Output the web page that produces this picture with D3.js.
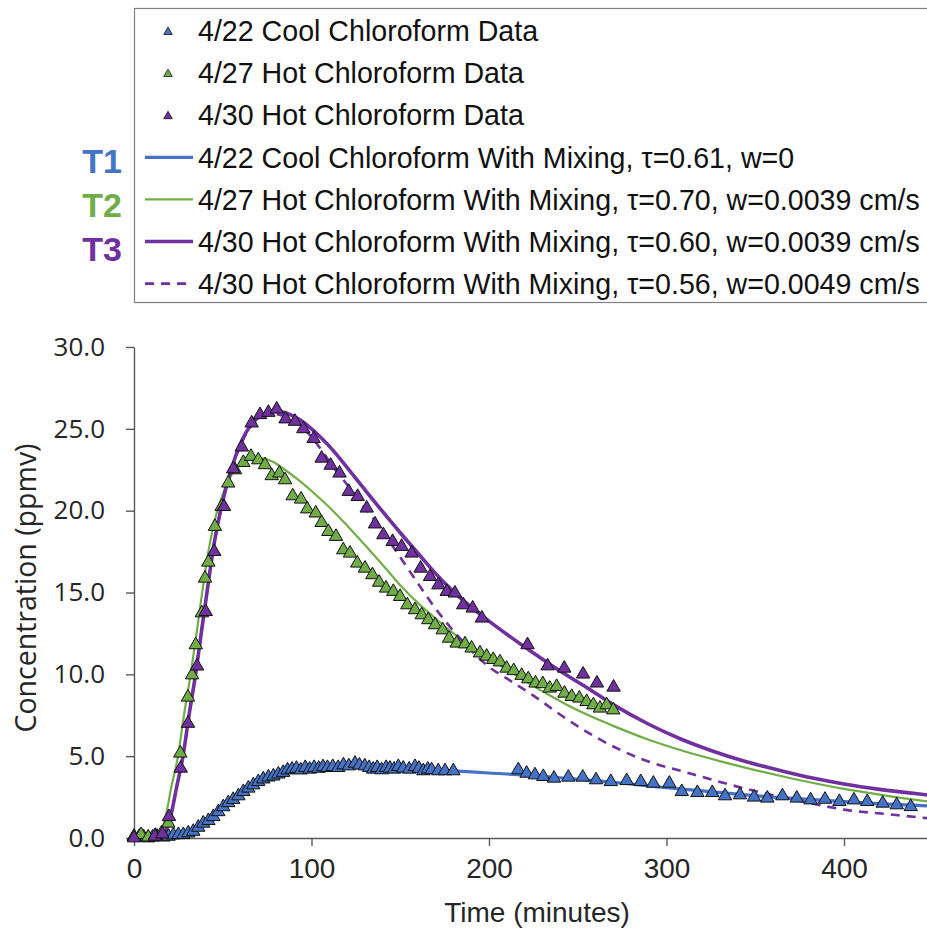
<!DOCTYPE html>
<html>
<head>
<meta charset="utf-8">
<script src="https://cdn.jsdelivr.net/npm/d3@7"></script>
<style>
  html, body { margin: 0; padding: 0; background: #fff; overflow: hidden; }
  svg { display: block; }
</style>
</head>
<body>
<svg id="chart" width="927" height="930"></svg>
<script>
// ---- Measured chloroform concentrations (time in minutes, concentration in ppmv) ----
const coolT = [0, 3, 5.5, 8, 10.5, 13, 16.5, 19.5, 22.2, 25, 27.8, 30.6, 33.4, 36.2, 39, 41.9, 44.7, 47.5, 50.3, 53.1, 55.9, 58.8, 61.6, 64.4, 67.2, 70, 72.8, 75.7, 78.5, 81.3, 84, 86.5, 89, 91.5, 94, 96.5, 99, 101.5, 104, 106.5, 109, 112, 115, 118, 121, 124.5, 127, 130, 132.5, 134.8, 137, 139.5, 142, 144.2, 146.5, 148.9, 151.7, 155, 158.3, 160.5, 163, 165.5, 167.7, 171.4, 175.2, 179.9, 216.5, 221.2, 225.9, 230.6, 236.6, 244.7, 252.8, 260.3, 268.6, 277.6, 285.5, 292.6, 301.6, 308.6, 317.4, 325.8, 333, 341.4, 349.3, 356.8, 365.3, 373.4, 381.2, 389.3, 397.4, 405.6, 413.1, 421.8, 429.7, 437.6];
const coolC = [0.08, 0.1, 0.05, 0.0, 0.05, 0.1, 0.05, 0.1, 0.18, 0.2, 0.2, 0.3, 0.4, 0.65, 0.9, 1.06, 1.3, 1.6, 1.9, 2.15, 2.35, 2.57, 2.83, 3.04, 3.24, 3.44, 3.6, 3.72, 3.78, 3.9, 4.0, 4.15, 4.2, 4.25, 4.15, 4.3, 4.2, 4.3, 4.25, 4.35, 4.3, 4.36, 4.3, 4.46, 4.4, 4.56, 4.45, 4.4, 4.3, 4.2, 4.3, 4.16, 4.3, 4.26, 4.2, 4.36, 4.26, 4.2, 4.36, 4.25, 4.1, 4.2, 4.16, 4.1, 4.1, 4.1, 4.16, 3.95, 3.85, 3.75, 3.65, 3.71, 3.71, 3.55, 3.44, 3.5, 3.44, 3.34, 3.34, 2.83, 2.77, 2.77, 2.57, 2.63, 2.49, 2.43, 2.57, 2.43, 2.32, 2.36, 2.22, 2.32, 2.22, 2.12, 2.02, 1.91];

const hot27T = [0, 4, 8, 12, 15.5, 19.3, 26.1, 30.4, 32.7, 34.8, 38.2, 40, 41.9, 45.6, 49.4, 53.1, 56.9, 61.6, 65.9, 70, 73.8, 77.6, 81.9, 85.1, 89.4, 94.1, 97.6, 102.4, 105.7, 109.5, 113.8, 117.9, 121.7, 125.8, 130.1, 134.3, 138.1, 142, 146.1, 149.9, 154, 158.3, 162.1, 165.8, 169.6, 173.9, 177.5, 181.8, 186.5, 190.2, 194.9, 198.7, 202.4, 206.2, 209.9, 213.9, 218.4, 222.1, 226.2, 230.3, 234.2, 238.1, 242.5, 246.6, 250.9, 255, 258.8, 262.5, 266.3, 270];
const hot27C = [0.1, 0.2, 0.05, 0.15, 0.3, 0.9, 5.18, 8.6, 9.96, 11.8, 13.75, 15.87, 16.85, 19.03, 20.25, 21.68, 22.49, 22.94, 23.31, 23.1, 22.8, 22.13, 22.29, 21.88, 20.9, 20.7, 20.1, 19.85, 19.27, 18.72, 18.42, 17.6, 17.4, 16.79, 16.48, 16.08, 15.62, 15.26, 15.06, 14.75, 14.24, 13.94, 13.63, 13.33, 13.02, 12.71, 12.2, 11.9, 11.85, 11.6, 11.3, 11.1, 10.9, 10.75, 10.37, 10.22, 9.93, 9.72, 9.46, 9.42, 9.15, 9.25, 8.84, 8.64, 8.54, 8.33, 8.13, 7.93, 8.13, 7.82];

const hot30T = [0, 11.7, 16, 19.7, 26.3, 30.4, 35.5, 40.4, 45.2, 50.7, 55.9, 60.7, 66.3, 71, 75.7, 80.4, 85.4, 90.7, 95.4, 101.2, 105.7, 110.8, 115.8, 121, 126, 131.1, 135.8, 140.5, 145.7, 150.8, 156.4, 161.5, 166.8, 171.5, 176.2, 180.8, 185.5, 190.8, 196, 221.7, 233, 242.4, 253, 260.8, 270.2];
const hot30C = [0.0, 0.1, 0.24, 1.3, 4.26, 7.0, 10.5, 13.83, 17.5, 20.25, 22.55, 23.88, 25.35, 25.86, 26.0, 26.2, 25.6, 25.45, 25.0, 24.4, 23.2, 22.77, 22.29, 21.17, 20.86, 20.15, 19.18, 18.52, 18.11, 17.81, 17.4, 16.48, 15.97, 15.46, 15.06, 14.96, 14.24, 14.04, 13.43, 11.8, 10.51, 10.37, 10.01, 9.46, 9.21];

// ---- Mixing-model curves ----
const t1T = [0, 12, 16, 20, 25, 30, 35, 40, 45, 50, 55, 60, 65, 70, 75, 80, 85, 90, 100, 110, 120, 130, 140, 160, 180, 200, 220, 240, 260, 280, 300, 320, 340, 360, 380, 400, 420, 450, 500];
const t1C = [0, 0, 0.05, 0.12, 0.2, 0.3, 0.55, 0.95, 1.35, 1.85, 2.3, 2.7, 3.1, 3.42, 3.68, 3.88, 4.05, 4.17, 4.32, 4.4, 4.42, 4.38, 4.32, 4.22, 4.1, 3.97, 3.85, 3.68, 3.5, 3.3, 3.07, 2.88, 2.68, 2.5, 2.36, 2.22, 2.1, 1.95, 1.75];

const t2T = [0, 12, 15, 18, 21, 24.8, 28, 31.9, 35, 37.9, 41, 45, 50, 55, 60, 66, 72, 78, 85, 93.5, 100, 112, 120, 131, 140, 150, 160, 170, 180, 190, 200, 210, 220, 232, 250, 270, 290, 310, 330, 350, 370, 400, 420, 450, 500];
const t2C = [0, 0, 0.3, 1.4, 3.1, 5.0, 7.4, 10, 12.3, 14.6, 16.9, 19.2, 21.0, 22.2, 22.85, 23.15, 23.2, 23.0, 22.5, 21.8, 21.2, 20.0, 19.1, 17.8, 16.7, 15.45, 14.35, 13.4, 12.5, 11.7, 10.95, 10.3, 9.6, 8.85, 7.8, 6.85, 6.0, 5.3, 4.7, 4.15, 3.65, 3.0, 2.65, 2.2, 1.7];

const t3T = [0, 14, 18, 21, 24, 27.6, 31, 34.7, 38, 41.1, 45, 50, 55, 60, 67, 73, 80, 86, 93.5, 100, 105, 112, 120, 131, 140, 150, 160, 170, 180, 190, 200, 210, 225, 240, 255, 270, 290, 308, 325, 345, 365, 383, 400, 420, 450, 500];
const t3C = [0, 0, 0.5, 1.5, 3.1, 5, 7.5, 10, 12.6, 15, 17.9, 20.6, 22.6, 24.1, 25.4, 25.9, 26.1, 25.95, 25.55, 25.0, 24.5, 23.7, 22.65, 21.15, 19.95, 18.65, 17.4, 16.15, 15.05, 14.1, 13.25, 12.45, 11.3, 10.2, 9.2, 8.15, 6.95, 6.05, 5.35, 4.66, 4.1, 3.65, 3.3, 2.97, 2.6, 2.05];

const t3bT = [0, 14, 18, 21, 24, 27.6, 31, 34.7, 38, 41.1, 45, 50, 55, 60, 67, 73, 80, 86, 93.5, 100, 105, 112, 120, 130, 140, 150, 160, 170, 180, 191, 200, 210, 225, 244, 262, 289, 310, 326, 345, 364, 380, 401, 425, 450, 500];
const t3bC = [0, 0, 0.5, 1.5, 3.1, 5, 7.5, 10, 12.6, 15, 17.9, 20.6, 22.6, 24.0, 25.3, 25.75, 25.9, 25.7, 25.2, 24.5, 23.8, 22.7, 21.6, 20.2, 18.75, 17.15, 15.55, 14.0, 12.65, 11.35, 10.45, 9.75, 8.7, 7.25, 6.05, 4.7, 4.05, 3.55, 3.0, 2.52, 2.15, 1.72, 1.45, 1.18, 0.8];

// ---- Axis ticks and legend text ----
const xTicks = [0, 100, 200, 300, 400];
const yTicks = [0, 5, 10, 15, 20, 25, 30];
const legendLabels = [
  "4/22 Cool Chloroform Data",
  "4/27 Hot Chloroform Data",
  "4/30 Hot Chloroform Data",
  "4/22 Cool Chloroform With Mixing, \u03c4=0.61, w=0",
  "4/27 Hot Chloroform With Mixing, \u03c4=0.70, w=0.0039 cm/s",
  "4/30 Hot Chloroform With Mixing, \u03c4=0.60, w=0.0039 cm/s",
  "4/30 Hot Chloroform With Mixing, \u03c4=0.56, w=0.0049 cm/s"
];
const trialTags = ["T1", "T2", "T3"];

// ---- Styling ----
const BLUE = "#4472C4", GREEN = "#70AD47", PURPLE = "#7030A0";
const AXIS = "#595959";
const LABEL_FONT = "'Liberation Sans', Arial, sans-serif";
const VALUE_FONT = "'Open Sans', 'DejaVu Sans', sans-serif";

const svg = d3.select("#chart");

// The time axis runs on past the right edge of the figure
const x = d3.scaleLinear().domain([0, 500]).range([134, 134 + 500 * 1.775]);
const y = d3.scaleLinear().domain([0, 30]).range([838, 347]);

const zip = (ts, cs) => ts.map((t, i) => ({ t, c: cs[i] }));

// ---- Axes ----
const yAxis = svg.append("g")
  .attr("transform", `translate(${x(0)},0)`)
  .call(d3.axisLeft(y).tickValues(yTicks).tickFormat(d3.format(".1f")).tickSize(8).tickSizeOuter(0).tickPadding(21));
yAxis.select(".domain").attr("stroke", AXIS).attr("stroke-width", 1.4);
yAxis.selectAll(".tick line").attr("stroke", AXIS).attr("stroke-width", 1.4);
yAxis.selectAll(".tick text").attr("fill", "#262626")
  .style("font-family", VALUE_FONT).style("font-size", "26px");

const xAxis = svg.append("g")
  .attr("transform", `translate(0,${y(0)})`)
  .call(d3.axisBottom(x).tickValues(xTicks).tickFormat(d3.format("d")).tickSize(8).tickSizeOuter(0).tickPadding(12));
xAxis.select(".domain").attr("stroke", AXIS).attr("stroke-width", 1.4);
xAxis.selectAll(".tick line").attr("stroke", AXIS).attr("stroke-width", 1.4);
xAxis.selectAll(".tick text").attr("fill", "#262626")
  .style("font-family", LABEL_FONT).style("font-size", "28px");

svg.append("text")
  .attr("x", 537).attr("y", 922)
  .attr("text-anchor", "middle")
  .attr("fill", "#262626")
  .style("font-family", LABEL_FONT).style("font-size", "28px")
  .text("Time (minutes)");

svg.append("text")
  .attr("transform", `translate(36,588) rotate(-90)`)
  .attr("text-anchor", "middle")
  .attr("fill", "#262626")
  .style("font-family", VALUE_FONT).style("font-size", "28.5px")
  .text("Concentration (ppmv)");

// ---- Model curves ----
const line = d3.line().x(d => x(d.t)).y(d => y(d.c)).curve(d3.curveMonotoneX);
const curves = [
  { data: zip(t1T, t1C), color: BLUE, width: 3.2, dash: null },
  { data: zip(t2T, t2C), color: GREEN, width: 2.2, dash: null },
  { data: zip(t3T, t3C), color: PURPLE, width: 3.6, dash: null },
  { data: zip(t3bT, t3bC), color: PURPLE, width: 2.6, dash: "9,7" }
];
svg.append("g").selectAll("path").data(curves).join("path")
  .attr("d", d => line(d.data))
  .attr("fill", "none")
  .attr("stroke", d => d.color)
  .attr("stroke-width", d => d.width)
  .attr("stroke-dasharray", d => d.dash);

// ---- Measured points ----
const tri = d3.symbol(d3.symbolTriangle, 78);
const series = [
  { data: zip(coolT, coolC), color: BLUE },
  { data: zip(hot27T, hot27C), color: GREEN },
  { data: zip(hot30T, hot30C), color: PURPLE }
];
series.forEach(s => {
  svg.append("g").selectAll("path").data(s.data).join("path")
    .attr("d", tri)
    .attr("transform", d => `translate(${x(d.t)},${y(d.c)})`)
    .attr("fill", s.color)
    .attr("stroke", "#111")
    .attr("stroke-width", 1);
});

// ---- Legend ----
const legend = svg.append("g");
legend.append("rect")
  .attr("x", 134.5).attr("y", 8.5)
  .attr("width", 900).attr("height", 294)
  .attr("fill", "#fff").attr("stroke", "#7f7f7f").attr("stroke-width", 1.2);

const rowY = i => 31 + i * 42.1;
const legendKeys = [
  { type: "mark", color: BLUE }, { type: "mark", color: GREEN }, { type: "mark", color: PURPLE },
  { type: "line", color: BLUE, width: 3.2, dash: null },
  { type: "line", color: GREEN, width: 2.2, dash: null },
  { type: "line", color: PURPLE, width: 3.6, dash: null },
  { type: "line", color: PURPLE, width: 2.6, dash: "9,7" }
];
const smallTri = d3.symbol(d3.symbolTriangle, 32);
legendKeys.forEach((k, i) => {
  if (k.type === "mark") {
    legend.append("path").attr("d", smallTri)
      .attr("transform", `translate(168,${rowY(i) + 1})`)
      .attr("fill", k.color).attr("stroke", "#111").attr("stroke-width", 0.8);
  } else {
    legend.append("line")
      .attr("x1", 145).attr("x2", 193).attr("y1", rowY(i)).attr("y2", rowY(i))
      .attr("stroke", k.color).attr("stroke-width", k.width)
      .attr("stroke-dasharray", k.dash);
  }
  legend.append("text")
    .attr("x", 198).attr("y", rowY(i)).attr("dy", "0.36em")
    .attr("fill", "#111")
    .style("font-family", LABEL_FONT).style("font-size", "28.6px")
    .text(legendLabels[i]);
});

// Trial tags beside the model-curve entries
const tagColors = [BLUE, GREEN, PURPLE];
trialTags.forEach((tag, i) => {
  svg.append("text")
    .attr("x", 122).attr("y", rowY(3 + i) + 3 + i * 2).attr("dy", "0.36em")
    .attr("text-anchor", "end")
    .attr("fill", tagColors[i])
    .style("font-family", LABEL_FONT).style("font-size", "34px").style("font-weight", "bold")
    .text(tag);
});
</script>
</body>
</html>
